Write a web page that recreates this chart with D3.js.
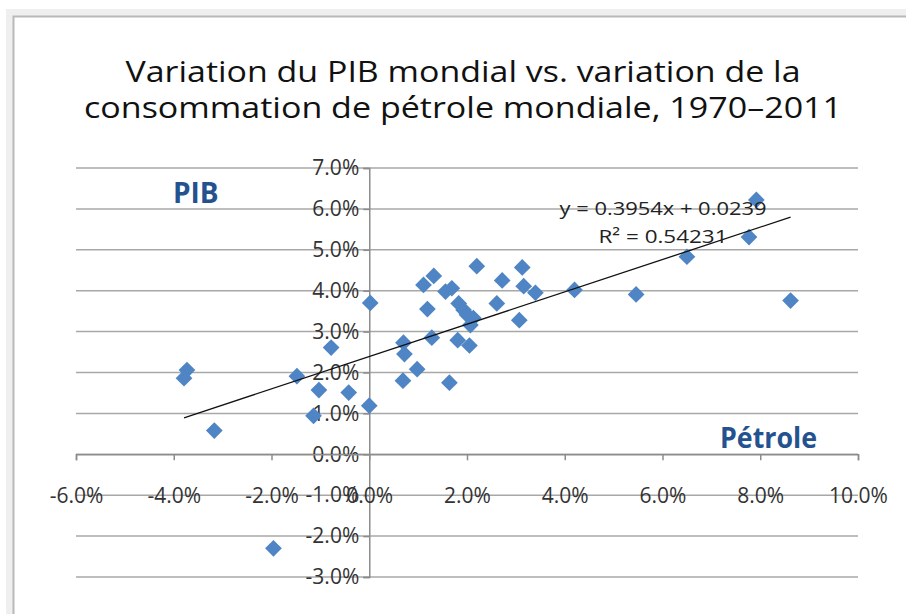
<!DOCTYPE html>
<html><head><meta charset="utf-8">
<script src="https://cdn.jsdelivr.net/npm/d3@7"></script>
<style>html,body{margin:0;padding:0;background:#fff;}svg{display:block;}</style>
</head><body>
<svg id="c" width="906" height="614"></svg>
<script>
// Data: world oil consumption change (x) vs world GDP change (y), 1970–2011
const petrole = [0.0002,-0.0078,-0.0373,-0.0379,-0.0317,-0.0148,-0.0103,-0.0042,-0.0114,0.0000,
  -0.0196,0.0220,0.0313,0.0132,0.0111,0.0272,0.0156,0.0169,0.0316,0.0340,
  0.0420,0.0546,0.0119,0.0183,0.0193,0.0261,0.0200,0.0213,0.0207,0.0307,
  0.0128,0.0181,0.0205,0.0070,0.0072,0.0098,0.0069,0.0164,0.0792,0.0777,
  0.0650,0.0862];
const pib = [0.0370,0.0261,0.0206,0.0186,0.0058,0.0191,0.0157,0.0151,0.0094,0.0119,
  -0.0230,0.0460,0.0457,0.0436,0.0414,0.0425,0.0398,0.0406,0.0411,0.0395,
  0.0402,0.0391,0.0355,0.0369,0.0353,0.0369,0.0341,0.0333,0.0316,0.0328,
  0.0285,0.0279,0.0266,0.0273,0.0245,0.0208,0.0180,0.0175,0.0622,0.0531,
  0.0483,0.0376];
const xTicks = [-0.06,-0.04,-0.02,0,0.02,0.04,0.06,0.08,0.10];
const yTicks = [-0.03,-0.02,-0.01,0,0.01,0.02,0.03,0.04,0.05,0.06,0.07];
const slope = 0.3954, intercept = 0.0239;
const eqLabel = "y = 0.3954x + 0.0239";
const r2Label = "R² = 0.54231";
const titleLines = ["Variation du PIB mondial vs. variation de la","consommation de pétrole mondiale, 1970–2011"];

const svg = d3.select("#c");
const FONT = "'Open Sans', 'Liberation Sans', sans-serif";

// frame
svg.append("rect").attr("x",6).attr("y",9).attr("width",900).attr("height",605).attr("fill","#efefef");
svg.append("rect").attr("x",13).attr("y",16).attr("width",893).attr("height",598).attr("fill","#fff");
svg.append("path").attr("d","M13.5,614 V16.5 H906").attr("fill","none").attr("stroke","#b9b9b9").attr("stroke-width",2);

// title
svg.selectAll("text.title").data(titleLines).join("text")
  .attr("class","title")
  .attr("x",463).attr("y",(d,i)=>82+i*36)
  .attr("text-anchor","middle")
  .attr("font-family",FONT).attr("font-size",29).attr("fill","#111")
  .attr("textLength",(d,i)=>i===0?675:758).attr("lengthAdjust","spacingAndGlyphs")
  .text(d=>d);

const x = d3.scaleLinear().domain([-0.06,0.10]).range([76,858]);
const y = d3.scaleLinear().domain([-0.03,0.07]).range([577,168]);
const f = d3.format(".1%");
const pct = v => f(v).replace("\u2212","-");

// horizontal gridlines
svg.append("g").selectAll("line").data(yTicks).join("line")
  .attr("x1",x(-0.06)).attr("x2",x(0.10))
  .attr("y1",d=>y(d)).attr("y2",d=>y(d))
  .attr("stroke","#a8a8a8").attr("stroke-width",1.5);

// y axis at x=0
const yAxis = svg.append("g").attr("transform",`translate(${x(0)},0)`)
  .call(d3.axisLeft(y).tickValues(yTicks).tickFormat(pct).tickSize(6).tickPadding(4));
yAxis.select(".domain").attr("stroke","#8c8c8c").attr("stroke-width",1.5);
yAxis.selectAll(".tick line").attr("stroke","#8c8c8c").attr("stroke-width",1.5);
yAxis.selectAll("text").attr("font-family",FONT).attr("font-size",21).attr("fill","#333");

// x axis at y=0
const xAxis = svg.append("g").attr("transform",`translate(0,${y(0)})`)
  .call(d3.axisBottom(x).tickValues(xTicks).tickFormat(pct).tickSize(6).tickPadding(28));
xAxis.select(".domain").attr("stroke","#8c8c8c").attr("stroke-width",1.5);
xAxis.selectAll(".tick line").attr("stroke","#8c8c8c").attr("stroke-width",1.5);
xAxis.selectAll("text").attr("font-family",FONT).attr("font-size",21).attr("fill","#333").attr("dy","0.71em");

// points
const data = petrole.map((v,i)=>({x:v,y:pib[i]}));
const sym = d3.symbol().type(d3.symbolSquare).size(140);
svg.append("g").selectAll("path").data(data).join("path")
  .attr("d",sym)
  .attr("transform",d=>`translate(${x(d.x)},${y(d.y)}) rotate(45)`)
  .attr("fill","#4f85c4");

// trendline
const [xmin,xmax] = d3.extent(petrole);
svg.append("line")
  .attr("x1",x(xmin)).attr("y1",y(slope*xmin+intercept))
  .attr("x2",x(xmax)).attr("y2",y(slope*xmax+intercept))
  .attr("stroke","#111").attr("stroke-width",1.3);

// trend labels
svg.append("text").attr("x",663).attr("y",215).attr("text-anchor","middle")
  .attr("font-family",FONT).attr("font-size",19).attr("fill","#222")
  .attr("textLength",207).attr("lengthAdjust","spacingAndGlyphs").text(eqLabel);
svg.append("text").attr("x",663).attr("y",243).attr("text-anchor","middle")
  .attr("font-family",FONT).attr("font-size",19).attr("fill","#222")
  .attr("textLength",129).attr("lengthAdjust","spacingAndGlyphs").text(r2Label);

// axis name labels
svg.append("text").attr("x",173).attr("y",203)
  .attr("font-family",FONT).attr("font-size",28).attr("font-weight","bold").attr("fill","#24528f").text("PIB");
svg.append("text").attr("x",720).attr("y",448)
  .attr("font-family",FONT).attr("font-size",28).attr("font-weight","bold").attr("fill","#24528f")
  .attr("textLength",97).attr("lengthAdjust","spacingAndGlyphs").text("Pétrole");
</script>
</body></html>
